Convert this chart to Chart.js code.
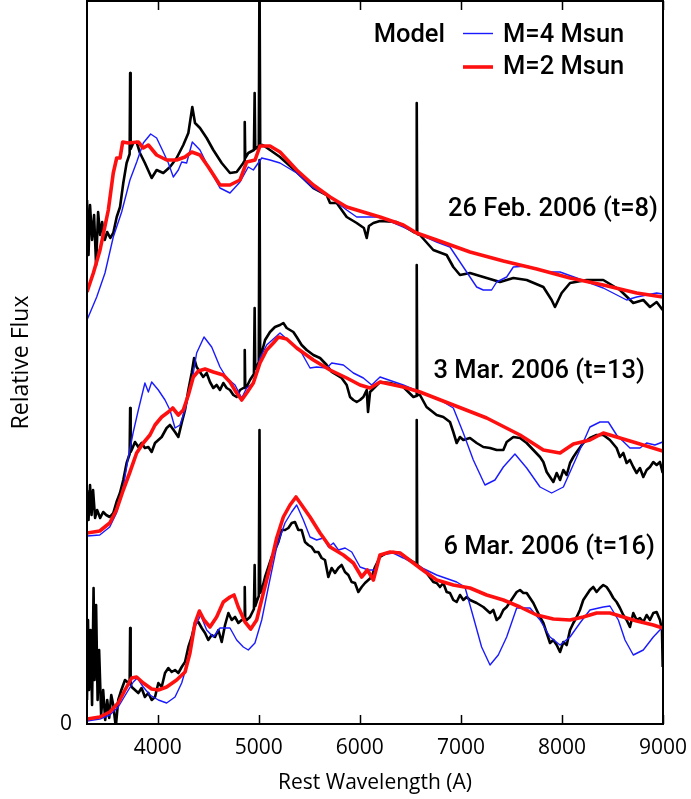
<!DOCTYPE html>
<html>
<head>
<meta charset="utf-8">
<script src="https://cdn.jsdelivr.net/npm/chart.js@4.4.1/dist/chart.umd.min.js"></script>
<style>
  html, body { margin: 0; padding: 0; background: #fff; }
  canvas { display: block; }
</style>
</head>
<body>
<canvas id="spectra" width="691" height="799"></canvas>
<script>
'use strict'

// wavelength (A), relative flux (offset per epoch)
const obs1 = [[3300,5.24],[3315,4.69],[3330,5.19],[3350,4.84],[3370,5.09],[3390,4.59],[3410,5.12],[3430,4.89],[3450,5.02],[3475,4.84],[3500,4.92],[3530,4.86],[3560,4.91],[3594,5.07],[3627,5.17],[3659,5.41],[3692,5.61],[3722,5.70],[3727,6.51],[3732,5.75],[3758,5.81],[3791,5.82],[3824,5.71],[3873,5.61],[3940,5.46],[3989,5.54],[4055,5.51],[4121,5.57],[4187,5.66],[4253,5.79],[4303,5.91],[4342,6.17],[4369,6.01],[4418,5.96],[4484,5.86],[4550,5.74],[4633,5.61],[4715,5.51],[4781,5.52],[4847,5.61],[4856,5.63],[4861,6.02],[4866,5.66],[4896,5.71],[4952,5.74],[4959,6.31],[4965,5.75],[4979,5.76],[5000,5.78],[5007,7.6],[5014,5.79],[5039,5.79],[5111,5.74],[5210,5.67],[5375,5.52],[5540,5.36],[5672,5.29],[5705,5.21],[5771,5.21],[5870,5.07],[5969,5.01],[6040,4.96],[6068,4.86],[6090,4.98],[6134,5.01],[6199,5.03],[6365,5.02],[6530,4.92],[6558,4.91],[6563,6.21],[6568,4.90],[6595,4.89],[6727,4.74],[6859,4.69],[6925,4.57],[6991,4.49],[7090,4.51],[7222,4.47],[7387,4.42],[7519,4.46],[7651,4.44],[7816,4.37],[7898,4.24],[7931,4.17],[7997,4.31],[8080,4.41],[8244,4.44],[8409,4.44],[8574,4.34],[8706,4.21],[8805,4.24],[8871,4.17],[8937,4.22],[8997,4.14]];
const m4_1 = [[3300,4.04],[3396,4.27],[3478,4.51],[3560,4.87],[3643,5.12],[3725,5.44],[3792,5.62],[3857,5.81],[3930,5.90],[3989,5.86],[4055,5.72],[4105,5.61],[4154,5.47],[4204,5.54],[4237,5.62],[4286,5.61],[4342,5.82],[4418,5.74],[4501,5.57],[4616,5.36],[4715,5.31],[4814,5.42],[4896,5.57],[4946,5.54],[5029,5.66],[5111,5.64],[5210,5.61],[5375,5.51],[5540,5.36],[5705,5.27],[5870,5.14],[5969,5.07],[6101,5.07],[6199,5.07],[6430,4.97],[6760,4.82],[6892,4.77],[7024,4.57],[7156,4.37],[7221,4.34],[7304,4.34],[7354,4.42],[7453,4.47],[7519,4.57],[7651,4.58],[7849,4.52],[7981,4.52],[8146,4.46],[8409,4.36],[8640,4.24],[8739,4.27],[8937,4.31],[8997,4.30]];
const m2_1 = [[3300,4.32],[3363,4.51],[3429,4.74],[3511,5.14],[3560,5.51],[3594,5.66],[3627,5.66],[3653,5.82],[3709,5.81],[3808,5.82],[3857,5.76],[3907,5.79],[3989,5.69],[4088,5.64],[4187,5.64],[4270,5.67],[4336,5.72],[4418,5.69],[4501,5.57],[4616,5.39],[4715,5.39],[4814,5.44],[4880,5.62],[4963,5.64],[5012,5.78],[5111,5.78],[5210,5.72],[5375,5.54],[5540,5.39],[5705,5.27],[5870,5.17],[6034,5.12],[6199,5.07],[6430,4.99],[6562,4.91],[6760,4.84],[7090,4.72],[7420,4.63],[7750,4.55],[8080,4.46],[8409,4.39],[8739,4.31],[8997,4.27]];

const obs2 = [[3300,2.34],[3315,2.04],[3330,2.39],[3345,2.09],[3360,2.34],[3380,2.06],[3400,2.14],[3430,2.06],[3460,2.12],[3490,2.09],[3525,2.07],[3560,2.11],[3592,2.22],[3626,2.31],[3659,2.44],[3692,2.61],[3722,2.70],[3727,3.16],[3732,2.72],[3742,2.74],[3775,2.82],[3808,2.77],[3840,2.81],[3873,2.76],[3907,2.77],[3940,2.72],[3973,2.81],[4039,2.87],[4088,2.96],[4121,2.99],[4171,2.92],[4204,2.87],[4237,3.01],[4270,3.14],[4303,3.34],[4336,3.51],[4360,3.66],[4385,3.57],[4418,3.52],[4450,3.47],[4484,3.51],[4517,3.42],[4550,3.36],[4583,3.39],[4616,3.34],[4649,3.41],[4682,3.36],[4715,3.34],[4748,3.29],[4781,3.27],[4814,3.34],[4847,3.36],[4856,3.36],[4861,3.74],[4866,3.37],[4880,3.37],[4913,3.44],[4952,3.50],[4959,4.16],[4965,3.55],[4979,3.57],[5000,3.62],[5007,5.64],[5014,3.66],[5029,3.71],[5062,3.84],[5111,3.92],[5160,3.97],[5210,3.99],[5243,4.01],[5276,3.96],[5309,3.94],[5342,3.92],[5375,3.87],[5424,3.79],[5474,3.74],[5540,3.69],[5606,3.66],[5672,3.59],[5722,3.52],[5771,3.49],[5820,3.46],[5870,3.39],[5903,3.27],[5936,3.24],[5969,3.22],[6002,3.24],[6035,3.27],[6068,3.34],[6081,3.12],[6101,3.32],[6150,3.37],[6200,3.42],[6300,3.41],[6430,3.37],[6530,3.27],[6558,3.28],[6563,4.59],[6568,3.29],[6595,3.29],[6660,3.17],[6760,3.09],[6826,3.07],[6892,3.02],[6925,2.92],[6958,2.81],[6991,2.87],[7024,2.84],[7090,2.86],[7156,2.81],[7222,2.77],[7288,2.76],[7354,2.74],[7420,2.74],[7453,2.82],[7519,2.87],[7585,2.86],[7651,2.81],[7717,2.74],[7783,2.67],[7816,2.62],[7849,2.52],[7882,2.47],[7915,2.42],[7948,2.51],[7981,2.44],[8014,2.54],[8047,2.49],[8080,2.61],[8113,2.67],[8146,2.72],[8211,2.81],[8277,2.86],[8343,2.89],[8409,2.89],[8475,2.84],[8541,2.76],[8574,2.67],[8607,2.71],[8640,2.61],[8673,2.64],[8706,2.57],[8739,2.51],[8772,2.56],[8805,2.47],[8838,2.54],[8871,2.57],[8904,2.62],[8937,2.59],[8970,2.62],[8997,2.51]];
const m4_2 = [[3300,1.88],[3426,1.89],[3525,1.97],[3592,2.11],[3659,2.37],[3709,2.67],[3758,2.92],[3808,3.14],[3873,3.41],[3907,3.32],[3940,3.42],[4006,3.34],[4072,3.24],[4121,3.14],[4171,2.96],[4220,2.99],[4270,3.14],[4336,3.41],[4385,3.71],[4458,3.87],[4534,3.77],[4616,3.57],[4682,3.46],[4765,3.39],[4831,3.26],[4880,3.36],[4946,3.41],[5012,3.66],[5078,3.79],[5177,3.88],[5210,3.91],[5309,3.82],[5424,3.71],[5507,3.56],[5573,3.57],[5672,3.56],[5722,3.61],[5837,3.59],[5936,3.51],[6035,3.46],[6117,3.39],[6200,3.47],[6430,3.39],[6595,3.32],[6760,3.26],[6925,3.16],[7024,2.91],[7123,2.64],[7238,2.39],[7337,2.44],[7420,2.57],[7535,2.70],[7651,2.56],[7783,2.37],[7898,2.31],[8014,2.37],[8146,2.67],[8277,2.97],[8376,3.02],[8459,3.02],[8541,2.89],[8673,2.76],[8772,2.76],[8838,2.81],[8920,2.79],[8997,2.82]];
const m2_2 = [[3300,1.91],[3426,1.93],[3525,2.01],[3592,2.14],[3659,2.34],[3725,2.52],[3791,2.71],[3857,2.81],[3923,2.89],[3973,2.99],[4039,3.07],[4105,3.12],[4148,3.16],[4204,3.09],[4253,3.14],[4303,3.29],[4352,3.47],[4402,3.53],[4468,3.55],[4550,3.52],[4649,3.49],[4715,3.42],[4781,3.31],[4831,3.24],[4880,3.31],[4946,3.41],[5012,3.61],[5078,3.74],[5144,3.81],[5194,3.87],[5276,3.85],[5375,3.76],[5540,3.64],[5705,3.54],[5870,3.46],[6002,3.39],[6101,3.36],[6200,3.42],[6430,3.37],[6595,3.32],[6925,3.19],[7255,3.06],[7585,2.89],[7816,2.74],[7981,2.71],[8113,2.80],[8277,2.84],[8409,2.91],[8574,2.86],[8739,2.81],[8997,2.73]];

const obs3 = [[3300,0.24],[3310,1.04],[3320,0.34],[3335,0.94],[3350,0.19],[3365,1.36],[3375,0.44],[3390,1.19],[3405,0.24],[3420,0.74],[3440,0.09],[3460,0.34],[3480,0.04],[3500,0.24],[3520,0.06],[3540,0.29],[3560,0.19],[3585,-0.03],[3609,0.24],[3640,0.34],[3676,0.44],[3722,0.40],[3727,0.96],[3732,0.40],[3742,0.37],[3775,0.34],[3808,0.31],[3840,0.36],[3873,0.27],[3907,0.31],[3940,0.24],[3973,0.27],[4006,0.41],[4039,0.37],[4072,0.51],[4105,0.56],[4138,0.52],[4171,0.54],[4204,0.51],[4237,0.57],[4270,0.62],[4303,0.77],[4336,0.87],[4369,1.01],[4402,1.02],[4435,0.96],[4468,0.91],[4500,0.84],[4534,0.89],[4567,0.87],[4600,0.94],[4633,0.82],[4666,0.99],[4699,1.11],[4732,1.04],[4765,1.07],[4798,1.01],[4831,1.04],[4856,1.04],[4861,1.37],[4866,1.04],[4880,1.04],[4913,1.07],[4952,1.15],[4959,1.59],[4965,1.18],[4985,1.24],[5000,1.28],[5007,2.94],[5014,1.31],[5029,1.34],[5062,1.47],[5095,1.57],[5128,1.67],[5160,1.74],[5194,1.82],[5227,1.94],[5260,1.94],[5293,1.96],[5326,2.01],[5358,2.02],[5391,1.94],[5424,1.94],[5457,1.82],[5490,1.79],[5523,1.77],[5556,1.72],[5589,1.72],[5622,1.66],[5655,1.64],[5688,1.47],[5721,1.56],[5754,1.51],[5787,1.56],[5820,1.59],[5853,1.52],[5886,1.49],[5919,1.42],[5952,1.41],[5985,1.32],[6018,1.37],[6051,1.41],[6084,1.44],[6117,1.47],[6150,1.57],[6199,1.67],[6265,1.71],[6331,1.72],[6398,1.71],[6463,1.66],[6530,1.62],[6558,1.60],[6563,3.04],[6568,1.59],[6595,1.57],[6660,1.51],[6727,1.42],[6760,1.41],[6793,1.37],[6826,1.41],[6859,1.32],[6892,1.31],[6925,1.24],[6958,1.22],[6991,1.29],[7024,1.24],[7057,1.27],[7090,1.24],[7156,1.21],[7222,1.17],[7255,1.14],[7288,1.11],[7321,1.14],[7354,1.04],[7387,1.07],[7420,1.14],[7453,1.17],[7486,1.22],[7519,1.27],[7552,1.32],[7585,1.34],[7618,1.31],[7651,1.31],[7684,1.26],[7717,1.21],[7750,1.14],[7783,1.07],[7816,1.01],[7849,0.91],[7882,0.81],[7915,0.84],[7948,0.79],[7981,0.72],[8014,0.82],[8047,0.79],[8080,0.94],[8113,1.01],[8146,1.07],[8178,1.14],[8211,1.24],[8244,1.29],[8277,1.34],[8310,1.37],[8343,1.32],[8376,1.36],[8409,1.39],[8442,1.37],[8475,1.32],[8508,1.26],[8541,1.22],[8574,1.16],[8607,1.09],[8640,1.04],[8673,0.97],[8706,1.11],[8739,1.04],[8772,1.06],[8805,1.02],[8838,1.09],[8871,1.04],[8904,1.11],[8937,1.12],[8970,1.04],[8990,0.94],[8997,0.57]];
const m4_3 = [[3300,0.03],[3426,0.05],[3525,0.09],[3609,0.17],[3692,0.31],[3758,0.42],[3798,0.46],[3857,0.37],[3923,0.29],[4006,0.24],[4088,0.21],[4171,0.27],[4237,0.41],[4303,0.64],[4369,0.97],[4425,1.09],[4484,0.94],[4550,0.87],[4616,0.96],[4715,0.96],[4781,0.84],[4847,0.77],[4896,0.74],[4962,0.81],[5029,1.04],[5095,1.37],[5177,1.77],[5259,2.01],[5325,2.12],[5375,2.19],[5441,2.04],[5507,1.87],[5573,1.84],[5639,1.86],[5689,1.77],[5738,1.81],[5788,1.74],[5854,1.76],[5920,1.72],[6002,1.57],[6084,1.54],[6150,1.54],[6199,1.69],[6331,1.71],[6430,1.66],[6595,1.57],[6760,1.49],[6958,1.42],[7040,1.37],[7123,1.07],[7205,0.77],[7288,0.59],[7370,0.69],[7453,0.87],[7552,1.16],[7684,1.16],[7783,1.04],[7882,0.87],[7981,0.79],[8080,0.87],[8178,1.01],[8277,1.14],[8409,1.17],[8475,1.18],[8558,1.04],[8624,0.84],[8706,0.69],[8805,0.74],[8904,0.87],[8997,0.97]];
const m2_3 = [[3300,0.05],[3426,0.07],[3525,0.12],[3609,0.21],[3676,0.34],[3742,0.46],[3791,0.47],[3857,0.41],[3940,0.35],[4006,0.34],[4088,0.37],[4187,0.44],[4270,0.52],[4319,0.71],[4369,1.01],[4412,1.13],[4458,1.04],[4517,0.97],[4583,1.07],[4649,1.22],[4715,1.27],[4755,1.29],[4797,1.17],[4864,1.02],[4920,0.95],[4979,1.04],[5045,1.31],[5111,1.57],[5177,1.86],[5243,2.07],[5309,2.19],[5368,2.27],[5424,2.19],[5507,2.07],[5606,1.91],[5705,1.77],[5837,1.69],[5936,1.61],[6018,1.47],[6075,1.54],[6134,1.44],[6199,1.69],[6300,1.72],[6398,1.71],[6595,1.56],[6760,1.44],[6925,1.39],[7090,1.36],[7255,1.29],[7420,1.24],[7585,1.17],[7750,1.09],[7915,1.05],[8080,1.04],[8211,1.07],[8343,1.11],[8475,1.11],[8607,1.07],[8739,1.03],[8904,0.99],[8997,0.96]];

const xTicks = [4000, 5000, 6000, 7000, 8000, 9000];
const yTicks = [0];
// epoch labels: text, right edge wavelength, flux at text centre
const epochText = ['26 Feb. 2006 (t=8)', '3 Mar. 2006 (t=13)', '6 Mar. 2006 (t=16)'];
const epochWave = [8950, 8820, 8920];
const epochFlux = [5.14, 3.52, 1.76];

const toXY = arr => arr.map(p => ({x: p[0], y: p[1]}));

function obsSet(arr) {
  return {data: toXY(arr), borderColor: '#000', borderWidth: 2.6, order: 3};
}
function m4Set(arr) {
  return {data: toXY(arr), borderColor: '#1a1aff', borderWidth: 1.4, order: 2};
}
function m2Set(arr) {
  return {data: toXY(arr), borderColor: '#ff1010', borderWidth: 3.6, order: 1};
}

const axisFont = {family: 'Open Sans', size: 21};
const labelFont = '500 25.5px Roboto';

// 枠と内向きの目盛り、凡例、日付ラベル
const framePlugin = {
  id: 'framePlugin',
  afterDraw(chart) {
    const {ctx, chartArea: a, scales: {x, y}} = chart;
    ctx.save();
    ctx.strokeStyle = '#000';
    ctx.lineWidth = 2;
    ctx.strokeRect(a.left, a.top, a.right - a.left, a.bottom - a.top);
    ctx.lineWidth = 1.5;
    xTicks.forEach(v => {
      const px = Math.round(x.getPixelForValue(v)) + 0.5;
      ctx.beginPath();
      ctx.moveTo(px, a.bottom);
      ctx.lineTo(px, a.bottom - 9);
      ctx.moveTo(px, a.top);
      ctx.lineTo(px, a.top + 9);
      ctx.stroke();
    });

    ctx.fillStyle = '#000';
    ctx.font = labelFont;
    ctx.textBaseline = 'middle';
    ctx.textAlign = 'right';
    epochText.forEach((t, i) => {
      ctx.fillText(t, x.getPixelForValue(epochWave[i]), y.getPixelForValue(epochFlux[i]));
    });

    // legend
    ctx.fillText('Model', 445, 36);
    ctx.textAlign = 'left';
    ctx.fillText('M=4 Msun', 503, 36);
    ctx.fillText('M=2 Msun', 503, 68);
    ctx.lineWidth = 1.4;
    ctx.strokeStyle = '#1a1aff';
    ctx.beginPath(); ctx.moveTo(463, 33.5); ctx.lineTo(493, 33.5); ctx.stroke();
    ctx.lineWidth = 3.6;
    ctx.strokeStyle = '#ff1010';
    ctx.beginPath(); ctx.moveTo(463, 67); ctx.lineTo(493, 67); ctx.stroke();
    ctx.restore();
  }
};

const ctx = document.getElementById('spectra');
const chart = new Chart(ctx, {
  type: 'line',
  data: {
    datasets: [
      obsSet(obs1), m4Set(m4_1), m2Set(m2_1),
      obsSet(obs2), m4Set(m4_2), m2Set(m2_2),
      obsSet(obs3), m4Set(m4_3), m2Set(m2_3)
    ]
  },
  options: {
    responsive: false,
    animation: false,
    parsing: false,
    elements: {
      point: {radius: 0},
      line: {tension: 0, borderJoinStyle: 'round'}
    },
    layout: {padding: {top: 1, right: 28, left: 0, bottom: 0}},
    plugins: {
      legend: {display: false},
      tooltip: {enabled: false}
    },
    scales: {
      x: {
        type: 'linear',
        min: 3300,
        max: 9000,
        afterBuildTicks: s => { s.ticks = xTicks.map(v => ({value: v})); },
        afterFit: s => {
          s.height = 75;
          s.paddingLeft = 0; s.paddingRight = 0; s.paddingTop = 0; s.paddingBottom = 0;
        },
        grid: {display: false, drawTicks: false},
        border: {display: false},
        ticks: {padding: 11, color: '#000', font: axisFont, maxRotation: 0, autoSkip: false, callback: v => String(v)},
        title: {display: true, text: 'Rest Wavelength (A)', color: '#000', font: {family: 'Open Sans', size: 21}, padding: {top: 0, bottom: 3}}
      },
      y: {
        type: 'linear',
        min: 0,
        max: 7.23,
        afterBuildTicks: s => { s.ticks = yTicks.map(v => ({value: v})); },
        afterFit: s => {
          s.width = 87;
          s.paddingLeft = 0; s.paddingRight = 0; s.paddingTop = 0; s.paddingBottom = 0;
        },
        grid: {display: false, drawTicks: false},
        border: {display: false},
        ticks: {padding: 15, color: '#000', font: axisFont, callback: v => String(v)},
        title: {display: true, text: 'Relative Flux', color: '#000', font: {family: 'Open Sans', size: 23}, padding: {top: 8, bottom: 0}}
      }
    }
  },
  plugins: [framePlugin]
});
</script>
</body>
</html>
